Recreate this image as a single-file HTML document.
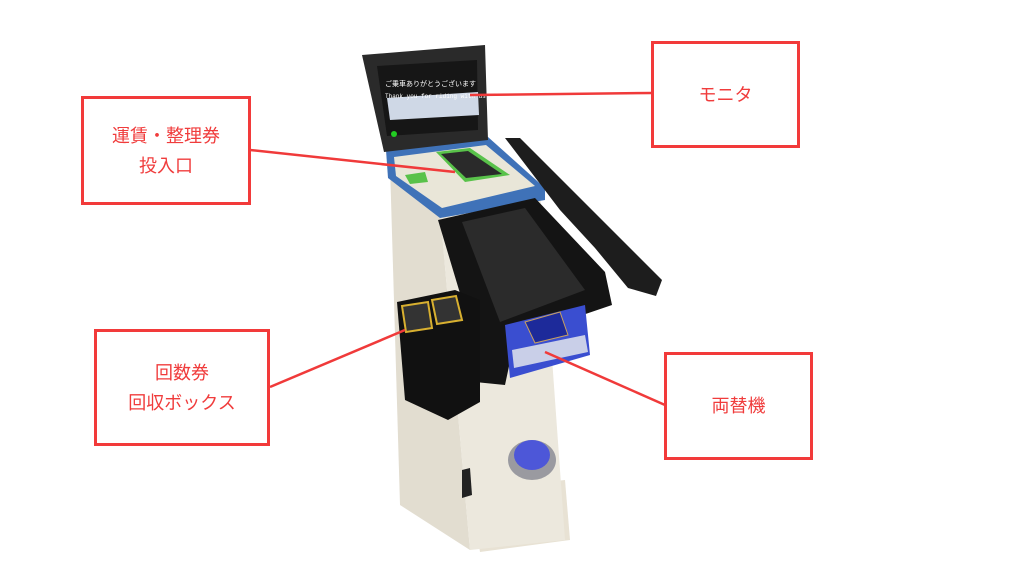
<!DOCTYPE html>
<html><head><meta charset="utf-8"><style>
body{margin:0;width:1024px;height:576px;background:#fff;position:relative;overflow:hidden;font-family:"Liberation Sans","Noto Sans CJK JP",sans-serif}
.b{position:absolute;border:3px solid #f23a3a;box-sizing:border-box;display:flex;align-items:center;justify-content:center;text-align:center;color:#f03c3c;font-size:18px;line-height:30px}
svg{position:absolute;left:0;top:0}
</style></head><body>
<svg width="1024" height="576">
<polygon points="470,490 565,480 570,540 480,552" fill="#e8e2d4"/>
<polygon points="390,165 440,210 470,550 400,505" fill="#e2ddd0"/>
<polygon points="440,210 540,190 565,540 470,550" fill="#ece8dd"/>
<polygon points="386,150 488,137 545,188 545,200 440,218 388,178" fill="#3f72b8"/>
<polygon points="394,157 486,145 535,186 442,208 396,176" fill="#e9e6d8"/>
<polygon points="436,152 470,148 510,175 465,182" fill="#59c24a"/>
<polygon points="441,154 468,151 502,174 466,178" fill="#2a2a2a"/>
<polygon points="405,175 425,172 428,182 410,184" fill="#59c24a"/>
<polygon points="362,55 485,45 488,140 384,152" fill="#2a2a2a"/>
<polygon points="377,66 477,60 478,130 387,136" fill="#161616"/>
<polygon points="387,98 478,92 479,115 390,120" fill="#cfd8e6"/>
<text x="385" y="86" fill="#fff" font-size="7">ご乗車ありがとうございます</text>
<text x="385" y="98" fill="#fff" font-size="6" font-family="Liberation Mono">Thank you for riding with us</text>
<circle cx="394" cy="134" r="3" fill="#2c2"/>
<polygon points="505,138 520,138 662,280 656,296 628,288 595,248 560,210" fill="#1d1d1d"/>
<polygon points="438,220 535,198 605,272 612,305 515,338 505,385 475,382 462,300" fill="#141414"/>
<polygon points="462,222 525,208 585,290 500,322" fill="#2b2b2b"/>
<polygon points="505,325 585,305 590,355 510,378" fill="#3a4ed0"/>
<polygon points="525,322 560,312 568,335 535,343" fill="#1d2a9a" stroke="#c8a060"/>
<polygon points="512,350 585,335 588,352 514,368" fill="#c9cfe8"/>
<polygon points="397,302 455,290 480,300 480,402 448,420 405,400" fill="#111"/>
<polygon points="402,306 428,302 432,328 406,332" fill="#333" stroke="#d8b030" stroke-width="2"/>
<polygon points="432,300 456,296 462,320 437,324" fill="#333" stroke="#d8b030" stroke-width="2"/>
<ellipse cx="532" cy="460" rx="24" ry="20" fill="#9a9aa0"/>
<ellipse cx="532" cy="455" rx="18" ry="15" fill="#4d57d8"/>
<polygon points="462,470 470,468 472,495 462,498" fill="#222"/>
<g stroke="#f03a3a" stroke-width="2.5" fill="none">
<line x1="250" y1="150" x2="455" y2="172"/>
<line x1="652" y1="93" x2="470" y2="95"/>
<line x1="270" y1="387" x2="405" y2="330"/>
<line x1="665" y1="405" x2="545" y2="352"/>
</g>
</svg>
<div class="b" style="left:81px;top:96px;width:170px;height:109px">運賃・整理券<br>投入口</div>
<div class="b" style="left:651px;top:41px;width:149px;height:107px">モニタ</div>
<div class="b" style="left:94px;top:329px;width:176px;height:117px">回数券<br>回収ボックス</div>
<div class="b" style="left:664px;top:352px;width:149px;height:108px">両替機</div>
</body></html>
